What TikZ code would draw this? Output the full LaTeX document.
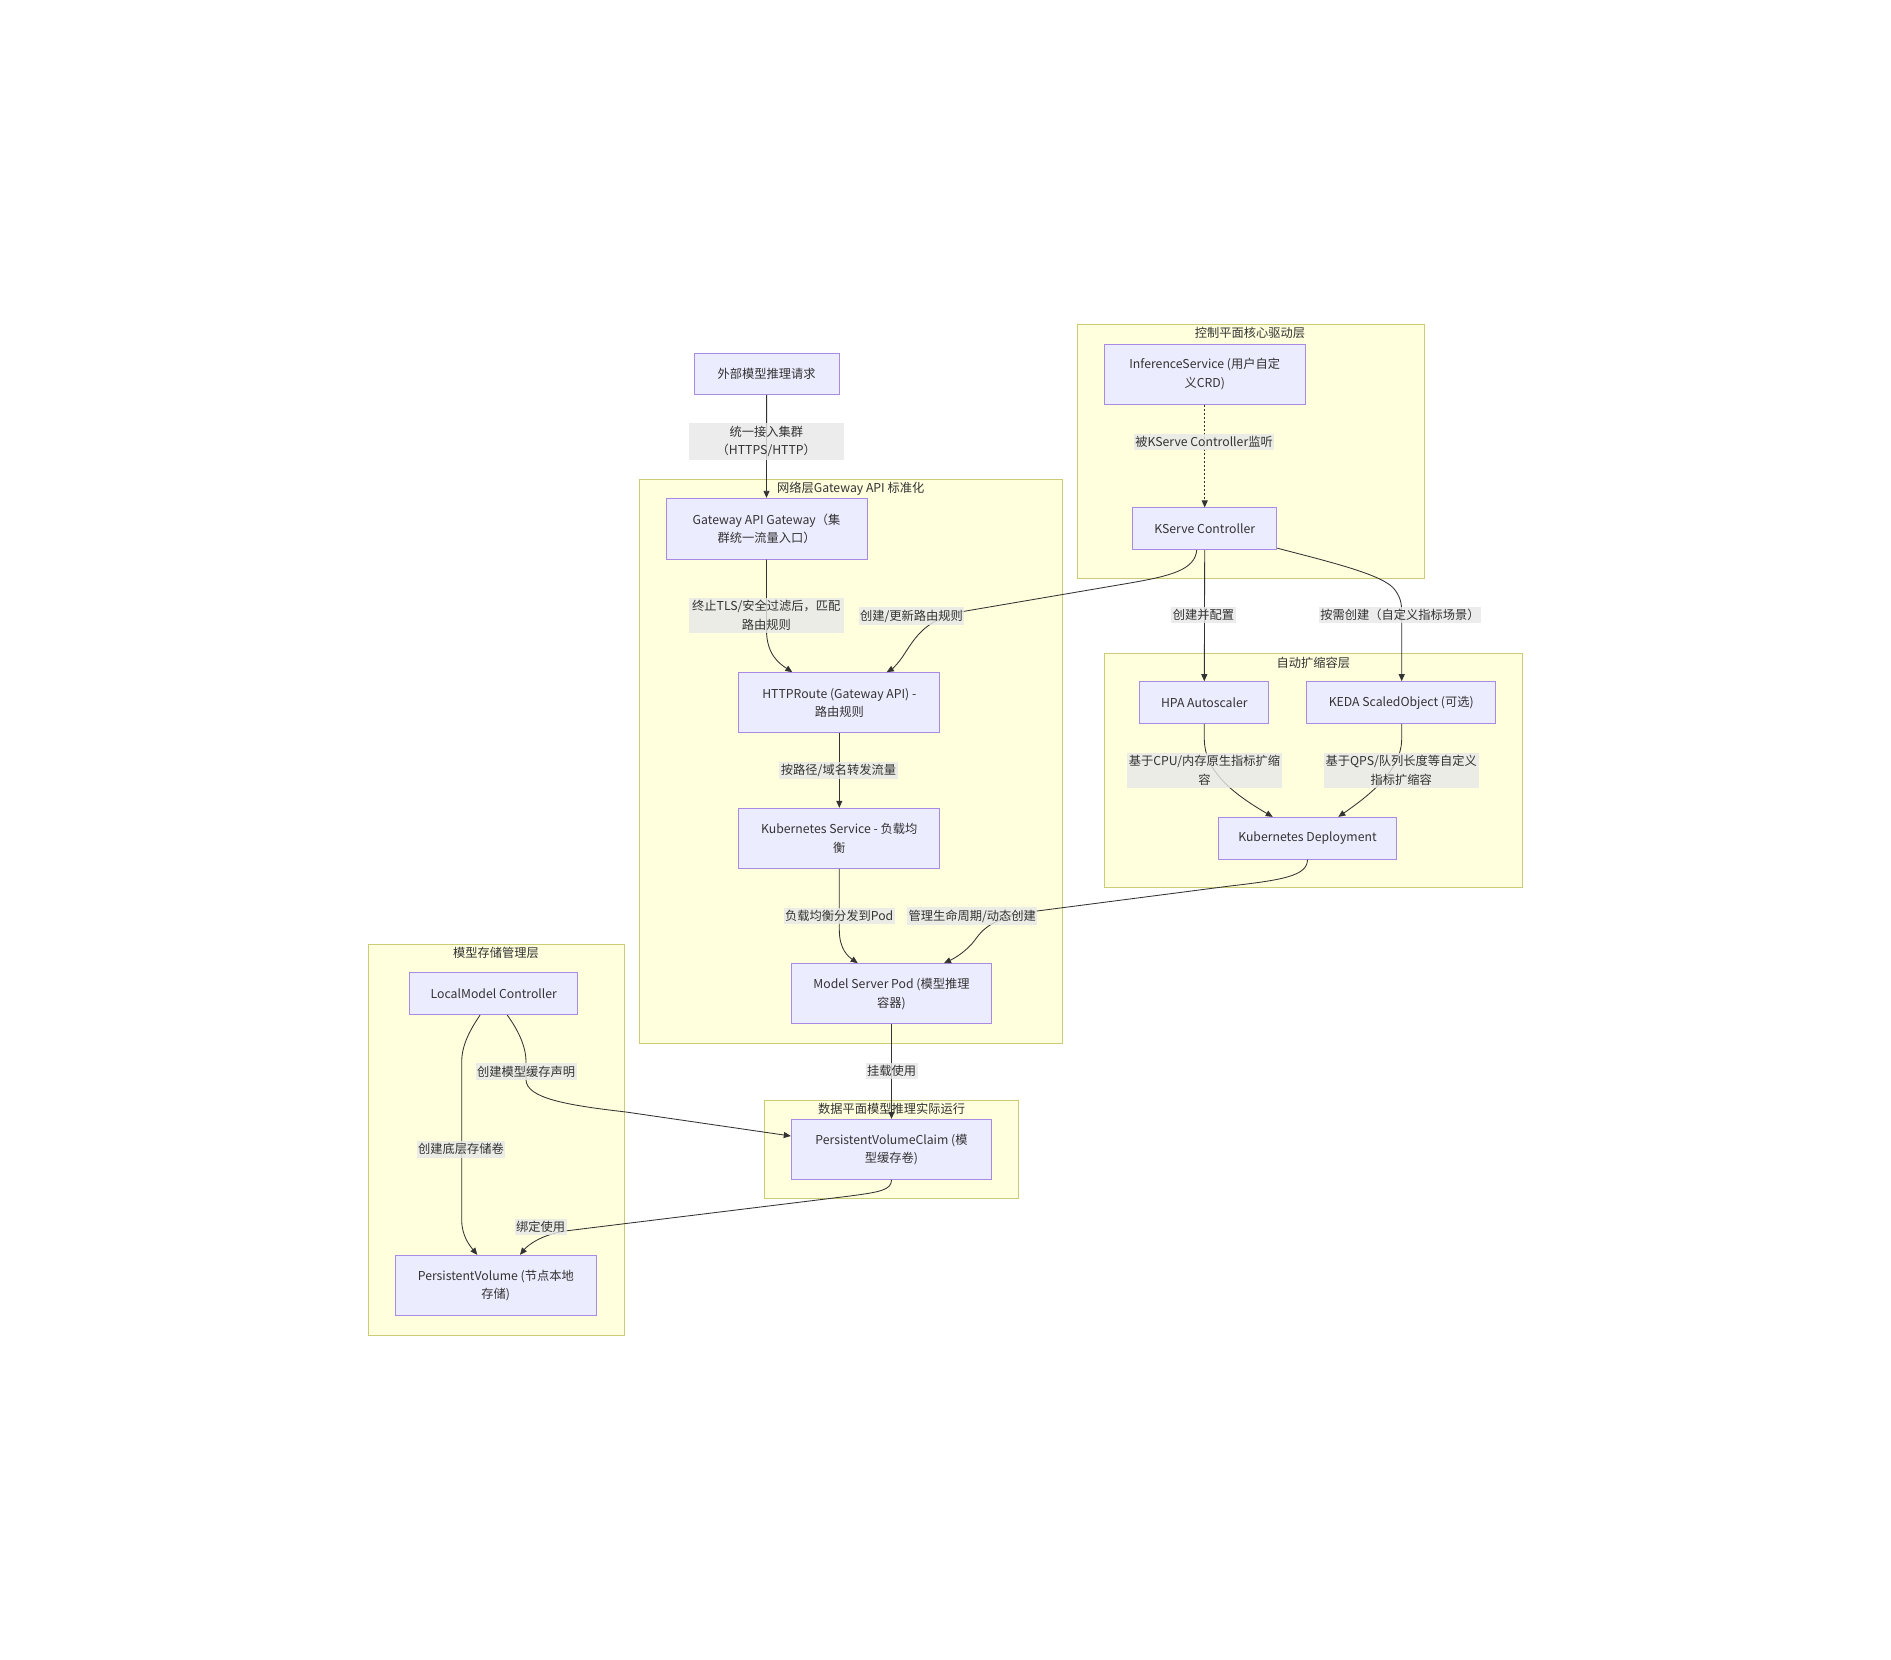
\documentclass[tikz,border=0pt]{standalone}
\usepackage{fontspec}
\setmainfont{Noto Sans CJK SC}
\usetikzlibrary{arrows.meta}
\definecolor{nodefill}{HTML}{ECECFF}
\definecolor{nodeline}{HTML}{A98BE3}
\definecolor{clfill}{HTML}{FFFFDE}
\definecolor{clline}{HTML}{CCCC77}
\definecolor{lblfill}{HTML}{E8E8E8}
\definecolor{ink}{HTML}{333333}
\begin{document}
\begin{tikzpicture}[x=1pt,y=-1pt,
  font=\fontsize{12.25}{18.5}\selectfont, text=ink,
  box/.style={draw=nodeline, fill=nodefill, line width=1pt, align=center, inner sep=0pt},
  cluster/.style={draw=clline, fill=clfill, line width=1pt},
  cltitle/.style={inner sep=0pt},
  edge/.style={draw=ink, line width=0.85pt, -{Triangle[length=7pt,width=6pt]}},
  lbl/.style={fill=lblfill, fill opacity=0.8, text opacity=1, inner xsep=1.5pt, inner ysep=2.5pt, align=center},
  lbltwo/.style={lbl, minimum width=155pt},
]
\useasboundingbox[fill=white] (0,0) rectangle (1891,1660);

% clusters
\draw[cluster] (639.3,479.3) rectangle (1062,1043.3);
\node[cltitle] (tnet) at (850.7,489) {网络层Gateway API 标准化};
\draw[cluster] (1077.3,324.7) rectangle (1424,578.3);
\node[cltitle] (tctrl) at (1250,333) {控制平面核心驱动层};
\draw[cluster] (1104.7,653.3) rectangle (1522.7,887.7);
\node[cltitle] (tauto) at (1313.3,662.7) {自动扩缩容层};
\draw[cluster] (764.3,1100) rectangle (1018.7,1198.3);
\draw[cluster] (368.3,944.3) rectangle (624.3,1335);
\node[cltitle] (tstore) at (496,953.3) {模型存储管理层};

% nodes
\node[box, minimum width=145pt, minimum height=41.4pt] (ext) at (766.6,374) {外部模型推理请求};
\node[box, minimum width=201pt, minimum height=60.7pt] (gw) at (766.5,528.7) {Gateway API Gateway（集\\群统一流量入口）};
\node[box, minimum width=200.7pt, minimum height=60.3pt] (route) at (839.3,702.8) {HTTPRoute (Gateway API) -\\路由规则};
\node[box, minimum width=200.7pt, minimum height=60pt] (svc) at (839.3,838.3) {Kubernetes Service - 负载均\\衡};
\node[box, minimum width=200.4pt, minimum height=60.3pt] (pod) at (891.5,993.8) {Model Server Pod (模型推理\\容器)};
\node[box, minimum width=200.4pt, minimum height=60pt] (pvc) at (891.5,1149.3) {PersistentVolumeClaim (模\\型缓存卷)};
\node[box, minimum width=200.7pt, minimum height=60pt] (isvc) at (1204.7,374) {InferenceService (用户自定\\义CRD)};
\node[box, minimum width=144pt, minimum height=41.7pt] (ksc) at (1204.7,528.8) {KServe Controller};
\node[box, minimum width=128.7pt, minimum height=41.6pt] (hpa) at (1204.3,702.5) {HPA Autoscaler};
\node[box, minimum width=189pt, minimum height=41.6pt] (keda) at (1401.2,702.5) {KEDA ScaledObject (可选)};
\node[box, minimum width=178.4pt, minimum height=41.7pt] (dep) at (1307.5,838.2) {Kubernetes Deployment};
\node[box, minimum width=167.7pt, minimum height=41.7pt] (lmc) at (493.8,993.8) {LocalModel Controller};
\node[box, minimum width=201pt, minimum height=60.4pt] (pv) at (495.8,1285.5) {PersistentVolume (节点本地\\存储)};

% edges
\draw[edge] (ext.south) -- (gw.north);
\draw[edge] (gw.south) -- (766.5,630) .. controls (766.5,655) and (780,664) .. ([xshift=-47pt]route.north);
\draw[edge] ([xshift=-8pt]ksc.south) .. controls (1195,570) and (1170,576) .. (1130,583) -- (960,612) .. controls (925,620) and (915,638) .. (905,653) .. controls (899,663) and (892,669) .. ([xshift=47.4pt]route.north);
\draw[edge] (route.south) -- (svc.north);
\draw[edge] (svc.south) -- (839.3,930) .. controls (839.3,950) and (849,957) .. ([xshift=-33.8pt]pod.north);
\draw[edge] (dep.south) .. controls (1307.5,876) and (1282,880) .. (1230,886) -- (1037,911) .. controls (1000,916) and (985,925) .. (975,940) .. controls (966,952) and (953,959) .. ([xshift=52.5pt]pod.north);
\draw[edge] (pod.south) -- (pvc.north);
\draw[edge] ([xshift=-13.8pt]lmc.south) .. controls (470,1030) and (461.7,1045) .. (461.7,1062) -- (461.7,1220) .. controls (461.7,1236) and (470,1246) .. ([xshift=-18.5pt]pv.north);
\draw[edge] ([xshift=13.5pt]lmc.south) .. controls (518,1030) and (526,1046) .. (526,1062) -- (526,1080) .. controls (527,1098) and (565,1105) .. (626,1112) -- ([yshift=13.3pt]pvc.west);
\draw[edge] (pvc.south) .. controls (891.5,1190) and (880,1192) .. (850,1196) -- (565,1231) .. controls (541,1235) and (528,1245) .. ([xshift=24.2pt]pv.north);
\draw[edge, dash pattern=on 2pt off 2pt] (isvc.south) -- (ksc.north);
\draw[edge] (ksc.south) -- (hpa.north);
\draw[edge] ([yshift=2pt]ksc.south east) .. controls (1330,562) and (1385,575) .. (1395,590) .. controls (1401.7,599) and (1401.7,606) .. (1401.7,616) -- ([xshift=0.5pt]keda.north);
\draw[edge] (hpa.south) -- (1204.3,740) .. controls (1205,770) and (1230,792) .. ([xshift=-34.8pt]dep.north);
\draw[edge] ([xshift=0.5pt]keda.south) -- (1401.7,740) .. controls (1401,770) and (1370,795) .. ([xshift=30.8pt]dep.north);

% data cluster title (drawn over the edge as in the reference)
\node[cltitle] (tdata) at (891.7,1108.7) {数据平面模型推理实际运行};

% edge labels
\node[lbltwo] (l1) at (766.3,441.5) {统一接入集群\\（HTTPS/HTTP）};
\node[lbltwo] (l2) at (766.3,615.5) {终止TLS/安全过滤后，匹配\\路由规则};
\node[lbl] (l3) at (911.5,616) {创建/更新路由规则};
\node[lbl] (l4) at (838.5,770.7) {按路径/域名转发流量};
\node[lbl] (l5) at (839.2,916.2) {负载均衡分发到Pod};
\node[lbl] (l6) at (972.2,916.2) {管理生命周期/动态创建};
\node[lbl] (l7) at (891.5,1071.3) {挂载使用};
\node[lbl] (l8) at (526,1071.5) {创建模型缓存声明};
\node[lbl] (l9) at (461,1149.3) {创建底层存储卷};
\node[lbl] (l10) at (540.5,1227.2) {绑定使用};
\node[lbl] (l11) at (1204,441.7) {被KServe Controller监听};
\node[lbl] (l12) at (1203.6,615) {创建并配置};
\node[lbl] (l13) at (1400,615) {按需创建（自定义指标场景）};
\node[lbltwo] (l14) at (1204.5,770.5) {基于CPU/内存原生指标扩缩\\容};
\node[lbltwo] (l15) at (1401.2,770.5) {基于QPS/队列长度等自定义\\指标扩缩容};
\end{tikzpicture}
\end{document}
